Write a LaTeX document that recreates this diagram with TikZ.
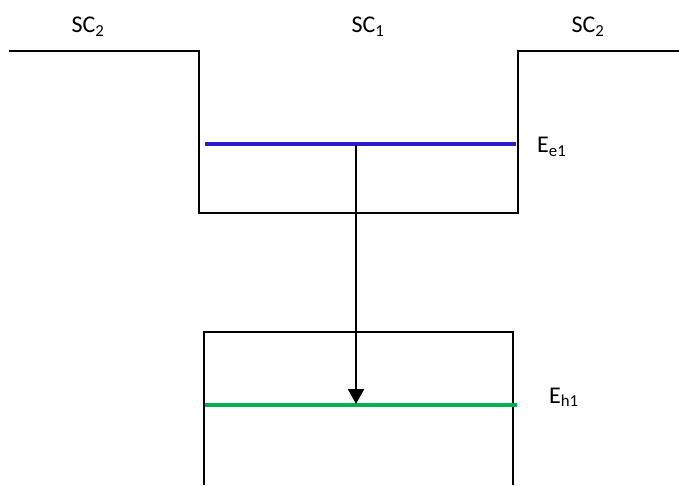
\documentclass[tikz,border=0pt]{standalone}
\usepackage{fontspec}
\setmainfont{Carlito}
\usetikzlibrary{arrows.meta}
\begin{document}
\begin{tikzpicture}[x=1pt,y=-1pt,
  band/.style={line width=2pt,black},
  level/.style={line width=3.5pt},
  lbl/.style={font=\fontsize{24}{29}\selectfont,inner sep=0pt}]
\useasboundingbox (0,0) rectangle (679,485);
% conduction band profile
\draw[band] (9,51) -- (199,51) -- (199,213) -- (518,213) -- (518,51) -- (679,51);
% valence band box (open at bottom)
\draw[band] (204,485) -- (204,332) -- (513,332) -- (513,485);
% levels
\coordinate (e1l) at (205,144);
\coordinate (e1r) at (516,144);
\coordinate (h1l) at (205,405);
\coordinate (h1r) at (517,405);
\draw[level,color={rgb,255:red,42;green,26;blue,212}] (e1l) -- (e1r);
\draw[level,color={rgb,255:red,0;green,176;blue,80}] (h1l) -- (h1r);
\coordinate (top) at (356,145);
\coordinate (bot) at (356,404);
\draw[line width=2.2pt,-{Triangle[length=15pt,width=16pt]}] (top) -- (bot);
% labels
\node[lbl,anchor=base] (sc2a) at (88,32.5) {SC\textsubscript{2}};
\node[lbl,anchor=base] (sc1) at (368,32.5) {SC\textsubscript{1}};
\node[lbl,anchor=base] (sc2b) at (588,32.5) {SC\textsubscript{2}};
\node[lbl,anchor=base west] (ee1) at (537,152.5) {E\textsubscript{e1}};
\node[lbl,anchor=base west] (eh1) at (549,403) {E\textsubscript{h1}};
\end{tikzpicture}
\end{document}
